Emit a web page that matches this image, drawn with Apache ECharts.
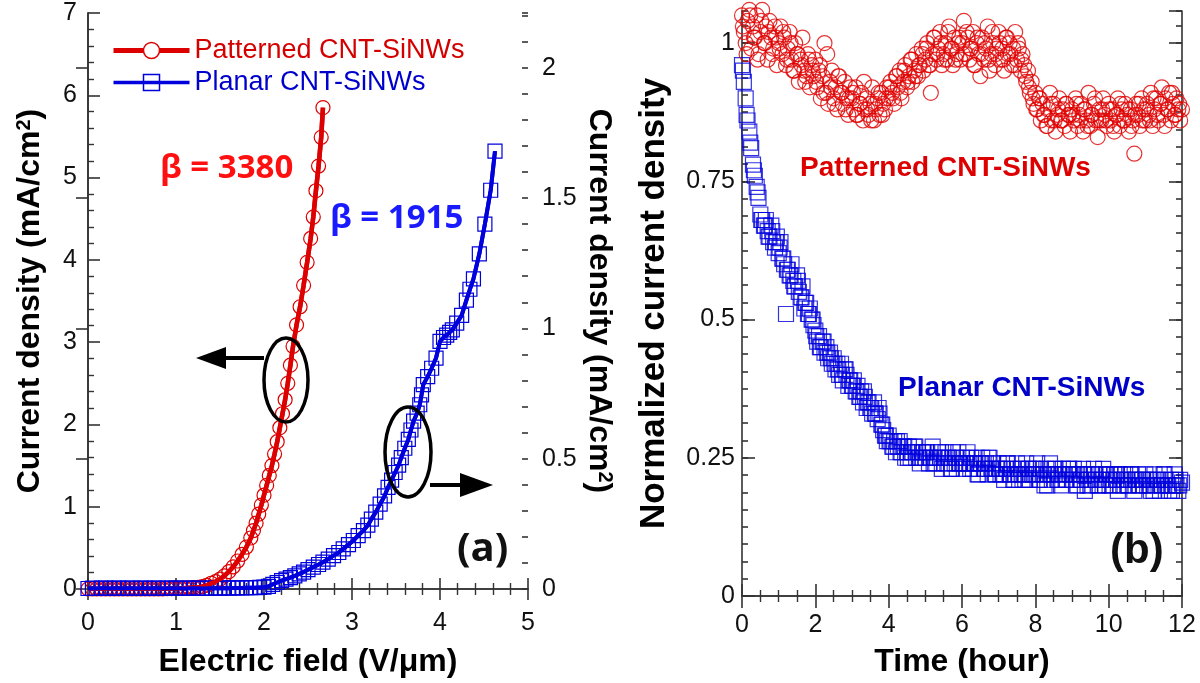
<!DOCTYPE html>
<html><head><meta charset="utf-8">
<script src="https://cdn.jsdelivr.net/npm/echarts/dist/echarts.min.js"></script>
<style>html,body{margin:0;padding:0;background:#fff}#c{width:1200px;height:683px}</style>
</head><body><div id="c"></div>
<script>
// ---------- Panel (a): J-E curves ----------
const fieldPatterned = [0,0.05,0.1,0.15,0.2,0.25,0.3,0.35,0.4,0.45,0.5,0.55,0.6,0.65,0.7,0.75,0.8,0.85,0.9,0.95,
  1.0,1.05,1.1,1.15,1.2,1.25,1.3,1.35,1.4,1.45,1.5,1.55,1.6,1.65,1.7,1.75,1.8,1.85,
  1.88,1.91,1.94,1.97,2.0,2.03,2.06,2.09,2.12,2.15,2.18,2.21,2.24,2.27,2.3,2.33,
  2.37,2.41,2.45,2.49,2.53,2.56,2.59,2.62,2.65,2.67];
const jPatterned = [0,0,0,0,0,0,0,0,0,0,0,0,0,0,0,0,0,0,0.005,0.005,
  0.008,0.01,0.012,0.015,0.018,0.02,0.03,0.045,0.07,0.09,0.12,0.16,0.21,0.27,0.34,0.42,0.51,0.62,
  0.71,0.8,0.91,1.02,1.14,1.26,1.38,1.5,1.64,1.79,1.96,2.13,2.3,2.5,2.72,2.95,
  3.21,3.43,3.69,3.97,4.26,4.52,4.84,5.14,5.49,5.85];
const fieldPlanar = [0,0.05,0.1,0.15,0.2,0.25,0.3,0.35,0.4,0.45,0.5,0.55,0.6,0.65,0.7,0.75,0.8,0.85,0.9,0.95,
  1.0,1.05,1.1,1.15,1.2,1.25,1.3,1.35,1.4,1.45,1.5,1.55,1.6,1.65,1.7,1.75,1.8,1.85,1.9,1.95,2.0,
  2.05,2.1,2.15,2.2,2.25,2.3,2.35,2.4,2.45,2.5,
  2.56,2.62,2.67,2.73,2.79,2.85,2.9,2.96,3.015,3.07,
  3.13,3.18,3.22,3.27,3.32,3.37,3.41,3.45,3.49,3.53,
  3.56,3.6,3.64,3.67,3.7,3.74,3.77,3.79,3.81,3.86,
  3.905,3.955,4.0,4.04,4.076,4.11,4.14,4.19,4.246,4.3,
  4.34,4.38,4.447,4.51,4.576,4.625];
const jPlanar = [0.002,0.003,0.002,0.003,0.003,0.002,0.003,0.003,0.002,0.003,
  0.003,0.002,0.003,0.003,0.002,0.003,0.003,0.002,0.003,0.003,
  0.003,0.003,0.002,0.003,0.003,0.003,0.002,0.003,0.003,0.003,
  0.003,0.004,0.003,0.004,0.004,0.004,0.005,0.005,0.005,0.006,0.007,
  0.01,0.018,0.025,0.032,0.038,0.044,0.05,0.058,0.065,0.074,
  0.084,0.094,0.103,0.115,0.128,0.14,0.154,0.17,0.186,0.205,
  0.224,0.245,0.268,0.295,0.326,0.357,0.39,0.418,0.447,0.475,
  0.504,0.54,0.574,0.61,0.644,0.675,0.707,0.745,0.784,0.815,
  0.847,0.886,0.95,0.965,0.974,0.985,0.994,1.02,1.05,1.108,
  1.15,1.19,1.286,1.4,1.53,1.68];

// ---------- Panel (b): stability ----------
const timeHours = [
  0,0.05,0.1,0.15,0.2,0.25,0.3,0.35,0.4,0.45,0.5,0.55,0.6,0.65,0.7,0.75,0.8,0.85,0.9,0.95,
  1,1.05,1.1,1.15,1.2,1.25,1.3,1.35,1.4,1.45,1.5,1.55,1.6,1.65,1.7,1.75,1.8,1.85,1.9,1.95,
  2,2.05,2.1,2.15,2.2,2.25,2.3,2.35,2.4,2.45,2.5,2.55,2.6,2.65,2.7,2.75,2.8,2.85,2.9,2.95,
  3,3.05,3.1,3.15,3.2,3.25,3.3,3.35,3.4,3.45,3.5,3.55,3.6,3.65,3.7,3.75,3.8,3.85,3.9,3.95,
  4,4.05,4.1,4.15,4.2,4.25,4.3,4.35,4.4,4.45,4.5,4.55,4.6,4.65,4.7,4.75,4.8,4.85,4.9,4.95,
  5,5.05,5.1,5.15,5.2,5.25,5.3,5.35,5.4,5.45,5.5,5.55,5.6,5.65,5.7,5.75,5.8,5.85,5.9,5.95,
  6,6.05,6.1,6.15,6.2,6.25,6.3,6.35,6.4,6.45,6.5,6.55,6.6,6.65,6.7,6.75,6.8,6.85,6.9,6.95,
  7,7.05,7.1,7.15,7.2,7.25,7.3,7.35,7.4,7.45,7.5,7.55,7.6,7.65,7.7,7.75,7.8,7.85,7.9,7.95,
  8,8.05,8.1,8.15,8.2,8.25,8.3,8.35,8.4,8.45,8.5,8.55,8.6,8.65,8.7,8.75,8.8,8.85,8.9,8.95,
  9,9.05,9.1,9.15,9.2,9.25,9.3,9.35,9.4,9.45,9.5,9.55,9.6,9.65,9.7,9.75,9.8,9.85,9.9,9.95,
  10,10.05,10.1,10.15,10.2,10.25,10.3,10.35,10.4,10.45,10.5,10.55,10.6,10.65,10.7,10.75,10.8,10.85,10.9,10.95,
  11,11.05,11.1,11.15,11.2,11.25,11.3,11.35,11.4,11.45,11.5,11.55,11.6,11.65,11.7,11.75,11.8,11.85,11.9,11.95,
  12];
const normPatterned = [
  1.05,1.02,1.00,1.04,1.06,0.99,1.03,1.01,1.05,0.98,1.02,1.06,1.00,1.03,0.97,1.04,1.01,0.99,1.03,0.96,
  1.00,1.03,0.98,1.01,0.96,0.99,1.02,0.97,0.95,1.00,0.98,0.93,0.97,1.01,0.95,0.94,0.98,0.92,0.96,0.94,
  0.97,0.92,0.95,0.90,0.94,1.00,0.91,0.89,0.93,0.95,0.90,0.92,0.88,0.94,0.91,0.89,0.93,0.90,0.87,0.92,
  0.90,0.88,0.92,0.87,0.89,0.91,0.86,0.88,0.90,0.87,0.89,0.92,0.86,0.88,0.90,0.87,0.91,0.89,0.88,0.92,
  0.90,0.93,0.91,0.89,0.94,0.92,0.95,0.90,0.93,0.96,0.92,0.94,0.97,0.93,0.95,0.98,0.94,0.96,0.99,0.95,
  0.97,1.00,0.96,0.91,0.98,1.01,0.97,0.99,1.02,0.96,0.98,1.00,0.97,1.03,0.99,0.96,1.01,0.98,1.00,0.97,
  1.00,1.04,0.98,1.01,0.97,0.99,1.02,0.96,1.00,0.98,0.94,1.01,0.97,0.99,1.03,0.95,0.98,1.00,0.96,0.99,
  1.02,0.97,0.99,0.95,1.01,0.98,1.00,0.96,0.99,1.02,0.97,0.99,0.95,0.98,0.96,0.93,0.95,0.91,0.93,0.89,
  0.91,0.88,0.90,0.86,0.89,0.87,0.85,0.88,0.91,0.86,0.89,0.84,0.87,0.90,0.86,0.88,0.85,0.89,0.87,0.84,
  0.88,0.86,0.90,0.85,0.87,0.89,0.84,0.88,0.86,0.91,0.85,0.87,0.89,0.86,0.83,0.88,0.86,0.90,0.87,0.85,
  0.89,0.86,0.88,0.84,0.87,0.90,0.85,0.88,0.86,0.89,0.87,0.84,0.88,0.86,0.80,0.89,0.87,0.85,0.90,0.88,
  0.86,0.89,0.87,0.91,0.85,0.88,0.90,0.86,0.89,0.92,0.87,0.90,0.88,0.91,0.86,0.89,0.87,0.90,0.88,0.86,
  0.88];
const normPlanar = [
  0.96,0.93,0.90,0.86,0.84,0.81,0.78,0.76,0.74,0.72,0.69,0.68,0.67,0.68,0.66,0.65,0.67,0.64,0.63,0.65,
  0.62,0.64,0.61,0.60,0.51,0.59,0.58,0.60,0.57,0.56,0.58,0.55,0.54,0.56,0.52,0.53,0.51,0.52,0.50,0.49,
  0.48,0.46,0.47,0.45,0.46,0.44,0.45,0.43,0.44,0.42,0.43,0.41,0.42,0.40,0.42,0.39,0.41,0.40,0.38,0.39,
  0.38,0.39,0.37,0.38,0.36,0.37,0.35,0.36,0.34,0.35,0.34,0.33,0.35,0.33,0.32,0.33,0.31,0.30,0.29,0.28,
  0.29,0.28,0.27,0.28,0.26,0.27,0.28,0.26,0.27,0.25,0.26,0.27,0.25,0.26,0.27,0.25,0.26,0.24,0.25,0.26,
  0.25,0.26,0.24,0.25,0.27,0.25,0.24,0.26,0.25,0.23,0.25,0.26,0.24,0.25,0.23,0.26,0.24,0.25,0.26,0.24,
  0.25,0.23,0.24,0.26,0.24,0.25,0.23,0.24,0.25,0.22,0.24,0.25,0.23,0.24,0.22,0.25,0.23,0.24,0.22,0.23,
  0.24,0.22,0.23,0.21,0.23,0.24,0.22,0.23,0.21,0.22,0.24,0.22,0.23,0.21,0.22,0.24,0.23,0.21,0.22,0.23,
  0.22,0.24,0.21,0.23,0.22,0.20,0.23,0.22,0.24,0.21,0.22,0.23,0.21,0.22,0.20,0.23,0.22,0.21,0.23,0.22,
  0.21,0.23,0.22,0.20,0.22,0.21,0.23,0.19,0.22,0.21,0.20,0.22,0.23,0.21,0.20,0.22,0.21,0.23,0.20,0.22,
  0.21,0.22,0.20,0.22,0.21,0.19,0.22,0.21,0.20,0.22,0.21,0.20,0.22,0.21,0.19,0.21,0.22,0.20,0.21,0.20,
  0.22,0.20,0.21,0.19,0.21,0.22,0.20,0.21,0.19,0.20,0.22,0.21,0.20,0.19,0.21,0.20,0.22,0.20,0.19,0.21,
  0.205];
// extra interleaved samples (t = x.025, x.125, ...)
const timeHoursExtra = [
  0.025,0.125,0.225,0.325,0.425,0.525,0.625,0.725,0.825,0.925,
  1.025,1.125,1.225,1.325,1.425,1.525,1.625,1.725,1.825,1.925,
  2.025,2.125,2.225,2.325,2.425,2.525,2.625,2.725,2.825,2.925,
  3.025,3.125,3.225,3.325,3.425,3.525,3.625,3.725,3.825,3.925,
  4.025,4.125,4.225,4.325,4.425,4.525,4.625,4.725,4.825,4.925,
  5.025,5.125,5.225,5.325,5.425,5.525,5.625,5.725,5.825,5.925,
  6.025,6.125,6.225,6.325,6.425,6.525,6.625,6.725,6.825,6.925,
  7.025,7.125,7.225,7.325,7.425,7.525,7.625,7.725,7.825,7.925,
  8.025,8.125,8.225,8.325,8.425,8.525,8.625,8.725,8.825,8.925,
  9.025,9.125,9.225,9.325,9.425,9.525,9.625,9.725,9.825,9.925,
  10.025,10.125,10.225,10.325,10.425,10.525,10.625,10.725,10.825,10.925,
  11.025,11.125,11.225,11.325,11.425,11.525,11.625,11.725,11.825,11.925];
const normPatternedExtra = [
  1.03,0.98,1.05,1.01,0.97,1.04,1.00,1.02,0.98,1.01,
  0.99,1.02,0.97,1.00,0.95,0.98,0.96,0.93,0.97,0.95,
  0.93,0.96,0.91,0.98,0.92,0.89,0.94,0.91,0.88,0.90,
  0.91,0.87,0.89,0.93,0.88,0.86,0.89,0.91,0.87,0.90,
  0.92,0.90,0.94,0.91,0.95,0.93,0.97,0.94,0.96,0.98,
  0.99,0.96,1.01,0.98,1.00,0.97,1.02,0.99,0.97,1.01,
  0.98,1.02,0.99,0.96,1.01,0.98,1.00,0.97,1.02,0.98,
  1.00,0.97,1.01,0.98,0.96,1.00,0.97,0.94,0.92,0.90,
  0.88,0.90,0.87,0.85,0.89,0.86,0.88,0.86,0.89,0.87,
  0.87,0.89,0.86,0.88,0.85,0.87,0.90,0.86,0.88,0.86,
  0.88,0.85,0.87,0.89,0.86,0.88,0.85,0.87,0.89,0.86,
  0.88,0.86,0.90,0.87,0.89,0.85,0.88,0.91,0.87,0.89];
const normPlanarExtra = [
  0.95,0.87,0.82,0.77,0.73,0.68,0.67,0.65,0.66,0.64,
  0.63,0.61,0.59,0.58,0.56,0.57,0.54,0.53,0.51,0.50,
  0.47,0.45,0.46,0.44,0.43,0.42,0.41,0.40,0.41,0.39,
  0.38,0.37,0.36,0.37,0.35,0.34,0.33,0.34,0.31,0.29,
  0.28,0.27,0.28,0.26,0.27,0.25,0.26,0.27,0.25,0.26,
  0.26,0.25,0.24,0.25,0.26,0.24,0.25,0.23,0.25,0.24,
  0.24,0.25,0.23,0.24,0.22,0.24,0.23,0.25,0.23,0.22,
  0.23,0.22,0.24,0.22,0.21,0.23,0.22,0.21,0.23,0.22,
  0.23,0.21,0.22,0.20,0.22,0.23,0.21,0.22,0.21,0.23,
  0.22,0.20,0.21,0.22,0.20,0.21,0.22,0.20,0.21,0.22,
  0.20,0.21,0.22,0.20,0.21,0.20,0.22,0.21,0.20,0.21,
  0.21,0.20,0.19,0.21,0.20,0.22,0.20,0.19,0.21,0.20];

const RED = '#dd0000', BLUE = '#0000dd';
const FONT = 'Liberation Sans, Arial, sans-serif';
const AX = '#333';
const pair = (xs, ys) => xs.map((x, i) => [x, ys[i]]);

const lineAxis = {show: true, lineStyle: {color: AX, width: 1.6}};
const tick = (len) => ({show: true, inside: true, length: len, lineStyle: {color: AX, width: 1.6}});
const minor = (n) => ({show: true, splitNumber: n, length: 6, lineStyle: {color: AX, width: 1.4}});
const lbl = (m) => ({show: true, fontSize: 25, fontFamily: FONT, color: '#111', margin: m});
const titleStyle = (size) => ({fontSize: size, fontWeight: 'bold', fontFamily: FONT, color: '#000',
  rich: {sup: {fontSize: 20, fontWeight: 'bold', fontFamily: FONT, color: '#000', verticalAlign: 'top', lineHeight: 20}}});
const hollow = (c) => ({color: 'rgba(255,255,255,0)', borderColor: c, borderWidth: 1.2});

const chart = echarts.init(document.getElementById('c'), null, {renderer: 'canvas'});
chart.setOption({
  animation: false,
  backgroundColor: '#fff',
  grid: [
    {left: 88, top: 13, width: 440, height: 579},
    {left: 742, top: 11, width: 440, height: 587}
  ],
  legend: {
    orient: 'vertical', left: 106, top: 32, itemWidth: 76, itemHeight: 20, itemGap: 5,
    textStyle: {fontSize: 27, fontFamily: FONT},
    data: [
      {name: 'Patterned CNT-SiNWs', textStyle: {color: '#d40000'},
       itemStyle: {color: '#fff', borderColor: RED, borderWidth: 1.5}, lineStyle: {color: RED, width: 5}},
      {name: 'Planar CNT-SiNWs', textStyle: {color: '#0000cc'},
       itemStyle: {color: 'rgba(255,255,255,0)', borderColor: BLUE, borderWidth: 1.5}, lineStyle: {color: BLUE, width: 3.5}}
    ]
  },
  xAxis: [
    {gridIndex: 0, type: 'value', position: 'bottom', min: 0, max: 5, interval: 1,
     axisLine: lineAxis, axisTick: tick(11), minorTick: minor(5), axisLabel: lbl(22), splitLine: {show: false},
     name: 'Electric field (V/μm)', nameLocation: 'middle', nameGap: 57, nameTextStyle: titleStyle(32)},
    {gridIndex: 0, type: 'value', position: 'top', min: 0, max: 5, interval: 1,
     axisLine: lineAxis, axisTick: tick(11), minorTick: minor(5), axisLabel: {show: false}, splitLine: {show: false}},
    {gridIndex: 1, type: 'value', position: 'bottom', min: 0, max: 12, interval: 2,
     axisLine: lineAxis, axisTick: tick(12), minorTick: minor(4), axisLabel: lbl(17), splitLine: {show: false},
     name: 'Time (hour)', nameLocation: 'middle', nameGap: 50, nameTextStyle: titleStyle(32)},
    {gridIndex: 1, type: 'value', position: 'top', min: 0, max: 12, interval: 2,
     axisLine: lineAxis, axisTick: tick(12), minorTick: minor(4), axisLabel: {show: false}, splitLine: {show: false}}
  ],
  yAxis: [
    {gridIndex: 0, type: 'value', position: 'left', min: 0, max: 7, interval: 1,
     axisLine: lineAxis, axisTick: tick(12), minorTick: minor(5), axisLabel: lbl(11), splitLine: {show: false},
     name: 'Current density (mA/cm{sup|2})', nameLocation: 'middle', nameGap: 42, nameTextStyle: titleStyle(32)},
    {gridIndex: 0, type: 'value', position: 'right', min: 0, max: 2.21, interval: 0.5,
     axisLine: lineAxis, axisTick: tick(12), axisLabel: Object.assign(lbl(14), {showMaxLabel: false}), splitLine: {show: false},
     name: 'Current density (mA/cm{sup|2})', nameLocation: 'middle', nameRotate: -90, nameGap: 55, nameTextStyle: titleStyle(32)},
    {gridIndex: 0, type: 'value', position: 'right', min: 0, max: 2.21, interval: 0.1,
     axisLine: {show: false}, axisTick: tick(6), axisLabel: {show: false}, splitLine: {show: false}},
    {gridIndex: 1, type: 'value', position: 'left', min: 0, max: 1.058, interval: 0.25,
     axisLine: lineAxis, axisTick: tick(13), axisLabel: Object.assign(lbl(7), {showMaxLabel: false}), splitLine: {show: false},
     name: 'Normalized current density', nameLocation: 'middle', nameGap: 70, nameTextStyle: titleStyle(35)},
    {gridIndex: 1, type: 'value', position: 'left', min: 0, max: 1.058, interval: 0.03125,
     axisLine: {show: false}, axisTick: tick(6), axisLabel: {show: false}, splitLine: {show: false}},
    {gridIndex: 1, type: 'value', position: 'right', min: 0, max: 1.058, interval: 0.25,
     axisLine: lineAxis, axisTick: tick(13), axisLabel: {show: false}, splitLine: {show: false}},
    {gridIndex: 1, type: 'value', position: 'right', min: 0, max: 1.058, interval: 0.03125,
     axisLine: {show: false}, axisTick: tick(6), axisLabel: {show: false}, splitLine: {show: false}}
  ],
  series: [
    {name: 'Patterned CNT-SiNWs', type: 'line', xAxisIndex: 0, yAxisIndex: 0, data: pair(fieldPatterned, jPatterned),
     symbol: 'circle', symbolSize: 14, showAllSymbol: true, itemStyle: hollow(RED),
     lineStyle: {color: RED, width: 4.5}, z: 2},
    {name: 'fitPatterned', type: 'line', xAxisIndex: 0, yAxisIndex: 0, data: pair(fieldPatterned, jPatterned),
     symbol: 'none', lineStyle: {color: RED, width: 4.5}, z: 4},
    {name: 'Planar CNT-SiNWs', type: 'line', xAxisIndex: 0, yAxisIndex: 1, data: pair(fieldPlanar, jPlanar),
     symbol: 'rect', symbolSize: 14, showAllSymbol: true, itemStyle: hollow(BLUE),
     lineStyle: {color: BLUE, width: 4}, z: 2},
    {name: 'fitPlanar', type: 'line', xAxisIndex: 0, yAxisIndex: 1, data: pair(fieldPlanar, jPlanar),
     symbol: 'none', lineStyle: {color: BLUE, width: 4}, z: 4},
    {name: 'Planar (b)', type: 'scatter', xAxisIndex: 2, yAxisIndex: 3, data: pair(timeHours, normPlanar),
     symbol: 'rect', symbolSize: 15, clip: false, itemStyle: hollow(BLUE)},
    {name: 'Planar (b) extra', type: 'scatter', xAxisIndex: 2, yAxisIndex: 3, data: pair(timeHoursExtra, normPlanarExtra),
     symbol: 'rect', symbolSize: 15, clip: false, itemStyle: hollow(BLUE)},
    {name: 'Patterned (b)', type: 'scatter', xAxisIndex: 2, yAxisIndex: 3, data: pair(timeHours, normPatterned),
     symbol: 'circle', symbolSize: 15, clip: false, itemStyle: hollow('#e00000')},
    {name: 'Patterned (b) extra', type: 'scatter', xAxisIndex: 2, yAxisIndex: 3, data: pair(timeHoursExtra, normPatternedExtra),
     symbol: 'circle', symbolSize: 15, clip: false, itemStyle: hollow('#e00000')}
  ],
  graphic: [
    {type: 'text', left: 160, top: 152, z: 100, style: {text: 'β = 3380', fill: '#ff1010', font: 'bold 33px "Open Sans", sans-serif'}},
    {type: 'text', left: 330, top: 202, z: 100, style: {text: 'β = 1915', fill: '#1a1aff', font: 'bold 33px "Open Sans", sans-serif'}},
    {type: 'text', left: 457, top: 530, z: 100, style: {text: '(a)', fill: '#111', font: 'bold 40px "Open Sans", sans-serif'}},
    {type: 'text', left: 1110, top: 530, z: 100, style: {text: '(b)', fill: '#111', font: 'bold 42px "Liberation Sans", Arial, sans-serif'}},
    {type: 'text', left: 800, top: 154, z: 100, style: {text: 'Patterned CNT-SiNWs', fill: '#dd0000', font: 'bold 28px "Liberation Sans", Arial, sans-serif'}},
    {type: 'text', left: 898, top: 374, z: 100, style: {text: 'Planar CNT-SiNWs', fill: '#0000c8', font: 'bold 28px "Liberation Sans", Arial, sans-serif'}},
    {type: 'ellipse', z: 100, shape: {cx: 286, cy: 380, rx: 22, ry: 42}, style: {fill: 'none', stroke: '#000', lineWidth: 3.5}},
    {type: 'line', z: 100, shape: {x1: 264, y1: 358, x2: 222, y2: 358}, style: {stroke: '#000', lineWidth: 4}},
    {type: 'polygon', z: 100, shape: {points: [[196, 358], [226, 347], [226, 369]]}, style: {fill: '#000'}},
    {type: 'ellipse', z: 100, shape: {cx: 408, cy: 452, rx: 23, ry: 45}, style: {fill: 'none', stroke: '#000', lineWidth: 3.5}},
    {type: 'line', z: 100, shape: {x1: 430, y1: 485, x2: 464, y2: 485}, style: {stroke: '#000', lineWidth: 4}},
    {type: 'polygon', z: 100, shape: {points: [[493, 485], [460, 473], [460, 497]]}, style: {fill: '#000'}}
  ]
});
</script>
</body></html>
